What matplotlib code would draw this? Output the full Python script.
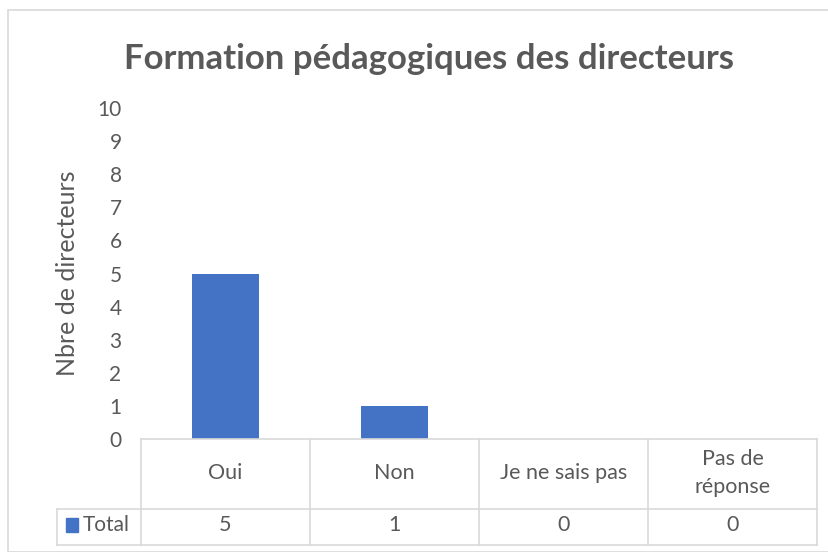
import numpy as np
import matplotlib.pyplot as plt
from matplotlib.patches import Rectangle

# Data
categories = ["Oui", "Non", "Je ne sais pas", "Pas de\nréponse"]
totals = [5, 1, 0, 0]
series_name = "Total"

BLUE = "#4472C4"
GREY_TXT = "#595959"
GRID = "#D9D9D9"
plt.rcParams['font.family'] = ['Lato', 'DejaVu Sans']

W, H = 829, 552
fig = plt.figure(figsize=(W/100, H/100), dpi=100)

# outer chart border
fig.patches.append(Rectangle((8/W, 0), 1, 1 - 10/H, transform=fig.transFigure,
                             fill=False, edgecolor=GRID, lw=1.2))

# plot area in pixels
x0, x1, ytop, ybot = 141, 817, 108, 439
ax = fig.add_axes([x0/W, 1 - ybot/H, (x1-x0)/W, (ybot-ytop)/H])

x = np.arange(len(categories))
ax.bar(x, totals, width=0.4, color=BLUE)
ax.set_xlim(-0.5, len(categories) - 0.5)
ax.set_ylim(0, 10)
ax.set_yticks(range(0, 11))
ax.tick_params(axis='y', length=0, labelsize=15, labelcolor=GREY_TXT, pad=14)
ax.set_xticks([])
for s in ax.spines.values():
    s.set_visible(False)
ax.set_ylabel("Nbre de directeurs", fontsize=18, color=GREY_TXT, labelpad=13)

fig.text(0.5 + 15/W, 1 - 59/H, "Formation pédagogiques des directeurs",
         ha='center', va='center', fontsize=25, fontweight='bold', color=GREY_TXT)

# data table
axh = ybot - ytop
def fy(py):
    return (ybot - py) / axh

tr = ax.get_xaxis_transform()
row1, row2 = 509, 545
kw = dict(transform=tr, clip_on=False, color=GRID, lw=1.2)
ax.plot([-0.5, len(categories) - 0.5], [0, 0], **kw)
ax.plot([-0.5, len(categories) - 0.5], [fy(row1)] * 2, **kw)
ax.plot([-0.5, len(categories) - 0.5], [fy(row2)] * 2, **kw)
for b in np.arange(len(categories) + 1) - 0.5:
    ax.plot([b, b], [0, fy(row2)], **kw)

# legend cell to the left
axt = ax.transAxes
lx = (57 - x0) / (x1 - x0)
ax.plot([lx, 0], [fy(row1)] * 2, transform=axt, clip_on=False, color=GRID, lw=1.2)
ax.plot([lx, 0], [fy(row2)] * 2, transform=axt, clip_on=False, color=GRID, lw=1.2)
ax.plot([lx, lx], [fy(row1), fy(row2)], transform=axt, clip_on=False, color=GRID, lw=1.2)
ax.add_patch(Rectangle(((66 - x0) / (x1 - x0), fy(532)), 12 / (x1 - x0), 14 / axh,
                       transform=axt, clip_on=False, color=BLUE))
ax.text((83 - x0) / (x1 - x0), fy(525), series_name, transform=axt, ha='left', va='center',
        fontsize=15, color=GREY_TXT)

for i, (c, v) in enumerate(zip(categories, totals)):
    ax.text(i, fy(473), c, transform=tr, ha='center', va='center', fontsize=15.5,
            color=GREY_TXT, linespacing=1.55)
    ax.text(i, fy(525), str(v), transform=tr, ha='center', va='center', fontsize=15.5,
            color=GREY_TXT)

fig.savefig("out.png", dpi=100)
